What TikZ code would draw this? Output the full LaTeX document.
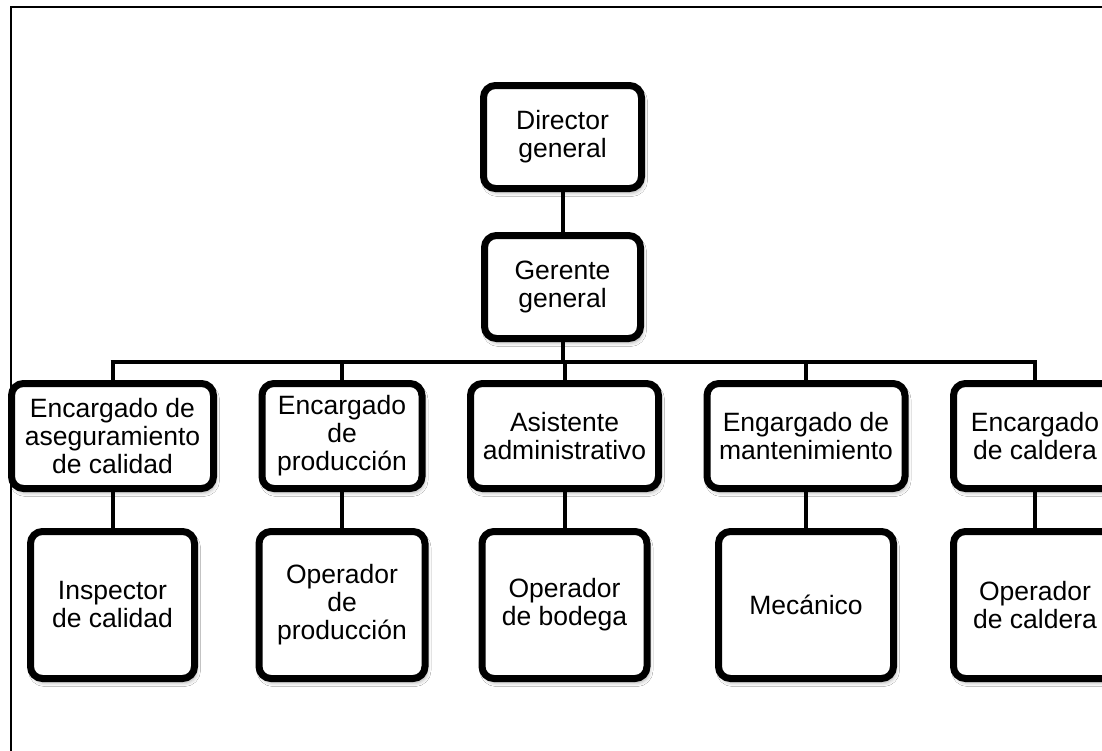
\documentclass[tikz,border=0pt]{standalone}
\usepackage{fontspec}
\setmainfont{Liberation Sans}
\usetikzlibrary{shadows.blur}
\begin{document}
\begin{tikzpicture}[x=1pt,y=-1pt,
  orgbox/.style={draw=black, line width=7pt, rounded corners=12pt, fill=white,
    align=center, inner sep=1pt, font=\fontsize{26.5}{28}\selectfont,
    blur shadow={shadow xshift=2pt, shadow yshift=-4pt, shadow blur radius=4pt, shadow opacity=35}},
  conn/.style={draw=black, line width=4pt},
  frameline/.style={draw=black, line width=1.8pt}]
\useasboundingbox (0,0) rectangle (1102,750);
\clip (0,0) rectangle (1102,750);
\fill[white] (0,0) rectangle (1102,750);
\draw[frameline] (1120,7) -- (11,7) -- (11,770);
% nodes
\node[orgbox, minimum width=158pt, minimum height=103pt] (dir) at (562.5,137) {Director\\general};
\node[orgbox, minimum width=156pt, minimum height=103pt] (ger) at (562.5,287) {Gerente\\general};
\node[orgbox, minimum width=202pt, minimum height=105pt] (a1) at (112.5,436) {Encargado de\\aseguramiento\\de calidad};
\node[orgbox, minimum width=160pt, minimum height=105pt] (a2) at (342,436) {Encargado\\de\\producción};
\node[orgbox, minimum width=188pt, minimum height=105pt] (a3) at (564.5,436) {Asistente\\administrativo};
\node[orgbox, minimum width=198pt, minimum height=105pt] (a4) at (806,436) {Engargado de\\mantenimiento};
\node[orgbox, minimum width=163pt, minimum height=105pt] (a5) at (1035,436) {Encargado\\de caldera};
\node[orgbox, minimum width=164pt, minimum height=147pt] (b1) at (112.5,605) {Inspector\\de calidad};
\node[orgbox, minimum width=166pt, minimum height=147pt] (b2) at (342,605) {Operador\\de\\producción};
\node[orgbox, minimum width=165pt, minimum height=147pt] (b3) at (564.5,605) {Operador\\de bodega};
\node[orgbox, minimum width=175pt, minimum height=147pt] (b4) at (806,605) {Mecánico};
\node[orgbox, minimum width=163pt, minimum height=147pt] (b5) at (1035,605) {Operador\\de caldera};
% connectors
\coordinate (busy) at (0,362);
\draw[conn] (dir.south) -- (ger.north);
\draw[conn] (ger.south) -- (ger.south |- busy);
\draw[conn] ([xshift=-2pt]a1.north |- busy) -- ([xshift=2pt]a5.north |- busy);
\foreach \n in {a1,a2,a3,a4,a5} {
  \draw[conn] (\n.north |- busy) -- (\n.north);
}
\draw[conn] (a1.south) -- (b1.north);
\draw[conn] (a2.south) -- (b2.north);
\draw[conn] (a3.south) -- (b3.north);
\draw[conn] (a4.south) -- (b4.north);
\draw[conn] (a5.south) -- (b5.north);
\end{tikzpicture}
\end{document}
